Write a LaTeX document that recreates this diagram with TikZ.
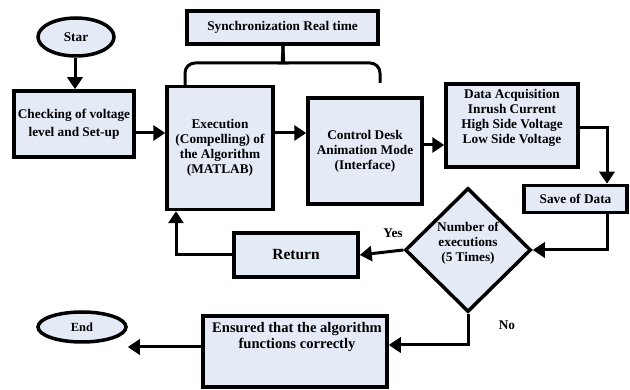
\documentclass[tikz,border=0pt]{standalone}
\usepackage{fontspec}
\setmainfont{Liberation Serif}
\usetikzlibrary{shapes.geometric,arrows.meta,calc}
\definecolor{boxfill}{HTML}{E4EAF6}
\begin{document}
\begin{tikzpicture}[x=1pt,y=-1pt,
  every node/.style={font=\bfseries\fontsize{13.3}{15}\selectfont, align=center},
  box/.style={draw=black, line width=3.5pt, fill=boxfill, inner sep=0pt},
  oval/.style={draw=black, line width=3.5pt, fill=boxfill, ellipse, inner sep=0pt},
  dia/.style={draw=black, line width=3.5pt, fill=boxfill, diamond, inner sep=0pt},
  arr/.style={line width=3pt, -{Triangle[length=12pt,width=15pt]}},
  plain/.style={inner sep=0pt}]
\useasboundingbox (0,0) rectangle (630,390);
% nodes
\node[oval, minimum width=76, minimum height=38] (star) at (76,37) {Star};
\node[box, minimum width=120, minimum height=66,
  font=\bfseries\fontsize{13.3}{18}\selectfont] (check) at (74,124)
  {Checking of voltage\\level and Set-up};
\node[box, minimum width=106, minimum height=123] (exec) at (220,148)
  {Execution\\(Compelling) of\\the Algorithm\\(MATLAB)};
\node[box, minimum width=191, minimum height=33] (sync) at (282.5,27.5) {Synchronization Real time};
\node[box, minimum width=114, minimum height=106] (ctrl) at (365,151)
  {Control Desk\\Animation Mode\\(Interface)};
\node[box, minimum width=132, minimum height=83] (data) at (512,125.5) {};
\node[plain] (datatxt) at (512,118) {Data Acquisition\\Inrush Current\\High Side Voltage\\Low Side Voltage};
\node[box, minimum width=103, minimum height=27] (save) at (575.5,199) {Save of Data};
\node[dia, minimum width=126, minimum height=124] (dec) at (468,250) {};
\node[plain] (dectxt) at (468,243) {Number of\\executions\\(5 Times)};
\node[box, minimum width=124, minimum height=44,
  font=\bfseries\fontsize{15.5}{17}\selectfont] (ret) at (296,255) {Return};
\node[box, minimum width=184, minimum height=71] (ens) at (295,351.5) {};
\node[plain, font=\bfseries\fontsize{14.6}{16.7}\selectfont] (enstxt) at (297,337)
  {Ensured that the algorithm\\functions correctly};
\node[oval, minimum width=88, minimum height=30,
  font=\bfseries\fontsize{12.4}{14}\selectfont] (end) at (82,327) {End};
\node[plain] (yes) at (393,233) {Yes};
\node[plain] (no) at (507,325) {No};
% helper coordinates
\coordinate (dsx) at (607,0);
\coordinate (rx) at (176,0);
% connectors
\draw[arr] (star.south -| 75,0) -- (check.north -| 75,0);
\draw[arr] (check.east |- 0,133) -- (exec.west |- 0,133);
\draw[arr] (exec.east |- 0,133) -- (ctrl.west |- 0,133);
\draw[arr] (ctrl.east |- 0,145) -- (data.west |- 0,145);
\draw[arr] (data.east |- 0,128) -| (dsx |- save.north);
\draw[arr] (dsx |- save.south) |- (dec.east);
\draw[arr] (dec.west) -- (ret.east);
\draw[arr] (ret.west) -| (rx |- exec.south);
\draw[arr] (dec.south) |- (ens.east |- 0,345);
\draw[arr] (ens.west |- 0,347) -- (end.east |- 0,347);
% brace
\draw[line width=3pt, rounded corners=10pt] (185,85) -- (185,63) -- (274,63)
  .. controls (281,63) and (283,58) .. (sync.south -| 283,0);
\draw[line width=3pt, rounded corners=10pt] (380,83) -- (380,63) -- (292,63)
  .. controls (285,63) and (283,58) .. (sync.south -| 283,0);
\end{tikzpicture}
\end{document}
